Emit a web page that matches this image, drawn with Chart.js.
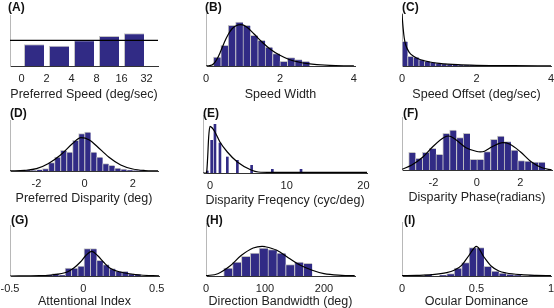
<!DOCTYPE html>
<html>
<head>
<meta charset="utf-8">
<script src="https://cdn.jsdelivr.net/npm/chart.js@4.4.1/dist/chart.umd.min.js"></script>
<style>
  html, body { margin: 0; padding: 0; background: #fff; width: 554px; height: 308px; overflow: hidden; }
  canvas { position: absolute; }
  .tag { position: absolute; font: bold 12px "Liberation Sans", Arial, sans-serif; line-height: 12px; color: #111; }
</style>
</head>
<body>
<script>
'use strict'

// (A) preferred speed, one bar per octave bin
const speedTickLabels = ['0', '2', '4', '8', '16', '32'];
const speedBins = [0.5, 1.5, 2.5, 3.5, 4.5];
const speedCounts = [21.7, 20.3, 25.7, 30, 32.7];
const speedMean = 25.7;

// (B) speed width
const widthBins = [0.3, 0.5, 0.7, 0.9, 1.1, 1.3, 1.5, 1.7, 1.9, 2.1, 2.3, 2.5, 2.7];
const widthCounts = [9, 20.7, 40.7, 44, 40.7, 30.7, 25.7, 19, 12.3, 4.7, 8.3, 6.3, 4.7];
const widthFitX = [0, 0.1, 0.2, 0.3, 0.4, 0.5, 0.6, 0.7, 0.8, 0.95, 1.1, 1.3, 1.5, 1.75, 2, 2.25, 2.5, 2.75, 3, 3.5, 4];
const widthFitY = [0, 0.3, 2, 7, 15, 24, 31.5, 37, 40, 41.3, 39, 32, 24.5, 16.5, 10.7, 6.5, 4, 2.3, 1.3, 0.4, 0.1];

// (C) speed offset
const offsetBins = [0.075, 0.225, 0.375, 0.525, 0.675, 0.825, 0.975, 1.125, 1.275, 1.425, 1.575, 1.725, 1.875, 2.025];
const offsetCounts = [24.7, 9.7, 9, 6.3, 4.7, 4, 3, 2.3, 1.7, 1.3, 1, 0.7, 0.7, 0.3];
const offsetFitX = [0, 0.03, 0.06, 0.1, 0.2, 0.3, 0.5, 0.75, 1, 1.5, 2, 3, 4];
const offsetFitY = [52, 38, 28, 21, 13.3, 10, 6.3, 4, 2.7, 1.3, 0.7, 0.3, 0.2];

// (D) preferred disparity
const dispBins = [-2.375, -2.125, -1.875, -1.625, -1.375, -1.125, -0.875, -0.625, -0.375, -0.125,
  0.125, 0.375, 0.625, 0.875, 1.125, 1.375, 1.625, 1.875, 2.125, 2.375];
const dispCounts = [0.7, 0.3, 1.3, 2.3, 8.3, 14, 20.7, 19, 30.7, 37.3, 39, 19, 14, 7.3, 5.7, 3, 2, 1, 0.3, 0.7];
const dispFitX = [-3.1, -2.5, -2, -1.5, -1, -0.5, -0.15, 0.2, 0.5, 1, 1.5, 2, 2.5, 3.05];
const dispFitY = [0.1, 0.6, 2.3, 7.5, 16, 27.5, 33.3, 31, 25, 14, 6, 2, 0.5, 0.1];

// (E) disparity frequency
const freqBins = [-0.35, 0.22, 0.65, 1.3, 2.26, 3.57, 5.43, 8.13, 11.87];
const freqCounts = [2, 32.7, 48.7, 30, 16, 12.7, 7.7, 3.7, 3.7];
const freqFitX = [-0.91, -0.5, -0.43, -0.3, -0.17, 0, 0.3, 0.65, 1.3, 2.26, 3.57, 5.43, 6.3, 8, 20.5];
const freqFitY = [0, 0, 1, 16, 36, 46.7, 45, 41, 31, 21, 11, 2.7, 1, 0.6, 0.6];

// (F) disparity phase
const phaseBins = [-2.985, -2.670, -2.356, -2.042, -1.728, -1.414, -1.100, -0.785, -0.471, -0.157,
  0.157, 0.471, 0.785, 1.100, 1.414, 1.728, 2.042, 2.356, 2.670, 2.985];
const phaseCounts = [17.7, 11.7, 17.7, 21.7, 15.7, 36.7, 40, 32.3, 36.7, 10.7, 10.7, 18.3, 30.7, 34, 28.3, 20, 9.3, 9, 8, 8];
const phaseFitX = [-3.45, -3, -2.5, -2, -1.5, -1.3, -1, -0.5, 0, 0.15, 0.35, 0.7, 1.2, 1.5, 2, 2.5, 3, 3.45];
const phaseFitY = [0.7, 5, 12.7, 24, 32.7, 34, 30.7, 22.3, 18.5, 18.2, 18.8, 23.3, 27.3, 26, 18.3, 8.3, 2.3, 0];

// (G) attentional index
const attnBins = [-0.232, -0.189, -0.146, -0.103, -0.060, -0.017, 0.026, 0.069, 0.112, 0.155, 0.198, 0.241, 0.284, 0.327, 0.370];
const attnCounts = [1.3, 2.3, 0.7, 8, 8, 10, 27.3, 27.3, 15.7, 11.3, 7.3, 5, 4.7, 2.3, 1.7];
const attnFitX = [-0.5, -0.3, -0.22, -0.11, -0.065, -0.02, 0.02, 0.057, 0.1, 0.137, 0.18, 0.25, 0.39, 0.516];
const attnFitY = [0, 0.3, 1, 4, 8, 14, 21, 24.7, 20, 14, 8, 4, 1, 0.2];

// (H) direction bandwidth
const bwBins = [37.5, 52.5, 67.5, 82.5, 97.5, 112.5, 127.5, 142.5, 157.5, 172.5];
const bwCounts = [8, 14, 19.7, 23, 28, 26.3, 23, 11.3, 14, 12.7];
const bwFitX = [0, 20, 40, 60, 80, 95, 100, 120, 140, 160, 180, 200, 230, 252];
const bwFitY = [0.3, 2.3, 9.7, 20.7, 28, 29.7, 29.3, 25.7, 18, 10.7, 5.7, 2.3, 0.7, 0.3];

// (I) ocular dominance
const odBins = [0.025, 0.175, 0.275, 0.325, 0.375, 0.425, 0.475, 0.525, 0.575, 0.625, 0.675, 0.725, 0.775, 0.875];
const odCounts = [0.7, 1.3, 0.7, 2.3, 8, 13.3, 28.3, 28.3, 9.7, 5, 3, 1.7, 1, 0.7];
const odFitX = [0, 0.1, 0.2, 0.3, 0.35, 0.4, 0.45, 0.5, 0.55, 0.6, 0.65, 0.7, 0.8, 0.9, 1];
const odFitY = [0.3, 0.6, 1.3, 3.3, 5.7, 10.7, 20.7, 29.7, 19, 9.7, 5, 3, 1.3, 0.6, 0.3];

const barColor = '#312b85';
const edgeColor = '#c4c4c4';
const padL = 16, padR = 14, padT = 2, axisH = 39;
// gap under the axis title, one per row of panels
const rowTitleGap = [2.5, 4, 6];

Chart.defaults.font.family = '"Liberation Sans", Arial, sans-serif';

let panels = [
  {row: 0, tag: '(A)', tagX: 8, tagY: 1, left: 10, right: 158, top: 15, base: 66, xMin: -0.46, xMax: 5.46,
   ticks: [0, 1, 2, 3, 4, 5], tickLabels: speedTickLabels, title: 'Preferred Speed (deg/sec)',
   bins: speedBins, counts: speedCounts, meanLine: speedMean, catPct: 0.8},
  {row: 0, tag: '(B)', tagX: 205, tagY: 1, left: 206, right: 355, top: 13, base: 66, xMin: 0, xMax: 4.03,
   ticks: [0, 2, 4], title: 'Speed Width', bins: widthBins, counts: widthCounts, fitX: widthFitX, fitY: widthFitY},
  {row: 0, tag: '(C)', tagX: 402, tagY: 1, left: 402, right: 551, top: 13, base: 66, xMin: 0, xMax: 4,
   ticks: [0, 2, 4], title: 'Speed Offset (deg/sec)', bins: offsetBins, counts: offsetCounts, fitX: offsetFitX, fitY: offsetFitY},
  {row: 1, tag: '(D)', tagX: 10, tagY: 107, left: 10, right: 158, top: 120, base: 171, xMin: -3.1, xMax: 3.05,
   ticks: [-2, 0, 2], title: 'Preferred Disparity (deg)', bins: dispBins, counts: dispCounts, fitX: dispFitX, fitY: dispFitY},
  {row: 1, tag: '(E)', tagX: 203, tagY: 107, left: 203, right: 367, top: 115, base: 173, xMin: -0.91, xMax: 20.47,
   ticks: [0, 10, 20], title: 'Disparity Freqency (cyc/deg)', bins: freqBins, counts: freqCounts, fitX: freqFitX, fitY: freqFitY, thin: true},
  {row: 1, tag: '(F)', tagX: 403, tagY: 107, left: 402, right: 552, top: 117, base: 170, xMin: -3.45, xMax: 3.46,
   ticks: [-2, 0, 2], title: 'Disparity Phase(radians)', bins: phaseBins, counts: phaseCounts, fitX: phaseFitX, fitY: phaseFitY},
  {row: 2, tag: '(G)', tagX: 11, tagY: 214, left: 10, right: 159, top: 225, base: 276, xMin: -0.5, xMax: 0.516,
   ticks: [-0.5, 0, 0.5], title: 'Attentional Index', bins: attnBins, counts: attnCounts, fitX: attnFitX, fitY: attnFitY},
  {row: 2, tag: '(H)', tagX: 206, tagY: 214, left: 206, right: 355, top: 223, base: 276, xMin: 0, xMax: 252.5,
   ticks: [0, 100, 200], title: 'Direction Bandwidth (deg)', bins: bwBins, counts: bwCounts, fitX: bwFitX, fitY: bwFitY},
  {row: 2, tag: '(I)', tagX: 404, tagY: 214, left: 402, right: 551, top: 222, base: 276, xMin: 0, xMax: 1,
   ticks: [0, 0.5, 1], title: 'Ocular Dominance', bins: odBins, counts: odCounts, fitX: odFitX, fitY: odFitY}
];

function drawPanel(p) {
  let plotW = p.right - p.left;
  let plotH = p.base - p.top;
  let canvas = document.createElement('canvas');
  canvas.width = plotW + padL + padR;
  canvas.height = plotH + padT + axisH;
  canvas.style.left = (p.left - padL) + 'px';
  canvas.style.top = (p.top - padT) + 'px';
  document.body.appendChild(canvas);

  let tag = document.createElement('div');
  tag.className = 'tag';
  tag.textContent = p.tag;
  tag.style.left = p.tagX + 'px';
  tag.style.top = p.tagY + 'px';
  document.body.appendChild(tag);

  let bars = {
    type: 'bar',
    order: 1,
    data: p.bins.map((x, i) => ({x: x, y: p.counts[i]})),
    backgroundColor: barColor,
    borderColor: edgeColor,
    borderWidth: p.thin ? 0 : {left: 1, top: 1, right: 0, bottom: 0},
    barPercentage: 1,
    categoryPercentage: p.catPct || 1
  };
  if (p.thin) bars.barThickness = 2;

  let datasets = [bars];
  if (p.fitX) {
    datasets.push({
      type: 'line',
      order: 0,
      data: p.fitX.map((x, i) => ({x: x, y: p.fitY[i]})),
      borderColor: '#000',
      borderWidth: 1.2,
      pointRadius: 0,
      cubicInterpolationMode: 'monotone'
    });
  }
  if (p.meanLine !== undefined) {
    datasets.push({
      type: 'line',
      order: 0,
      data: [{x: p.xMin, y: p.meanLine}, {x: p.xMax, y: p.meanLine}],
      borderColor: '#000',
      borderWidth: 1.2,
      pointRadius: 0
    });
  }

  new Chart(canvas, {
    type: 'bar',
    data: {datasets: datasets},
    options: {
      responsive: false,
      animation: false,
      layout: {padding: {left: padL, right: padR, top: padT, bottom: 0}},
      plugins: {legend: {display: false}, tooltip: {enabled: false}},
      scales: {
        x: {
          type: 'linear',
          min: p.xMin,
          max: p.xMax,
          offset: false,
          grid: {display: false, drawTicks: false, offset: false},
          border: {display: true, color: '#333', width: 1},
          ticks: {
            padding: 6, color: '#222', font: {size: 11}, autoSkip: false, maxRotation: 0,
            callback: (v, i) => p.tickLabels ? p.tickLabels[i] : String(v)
          },
          afterBuildTicks: s => { s.ticks = p.ticks.map(v => ({value: v})); },
          afterFit: s => { s.height = axisH; },
          title: {display: true, text: p.title, color: '#222', font: {size: 12.5},
                  padding: {top: 0, bottom: rowTitleGap[p.row]}}
        },
        y: {
          min: 0,
          max: plotH,
          grid: {display: false, drawTicks: false},
          ticks: {display: false},
          border: {display: true, color: '#b8b8b8', width: 1},
          afterFit: s => { s.width = 0; }
        }
      }
    }
  });
}

panels.forEach(drawPanel);
</script>
</body>
</html>
